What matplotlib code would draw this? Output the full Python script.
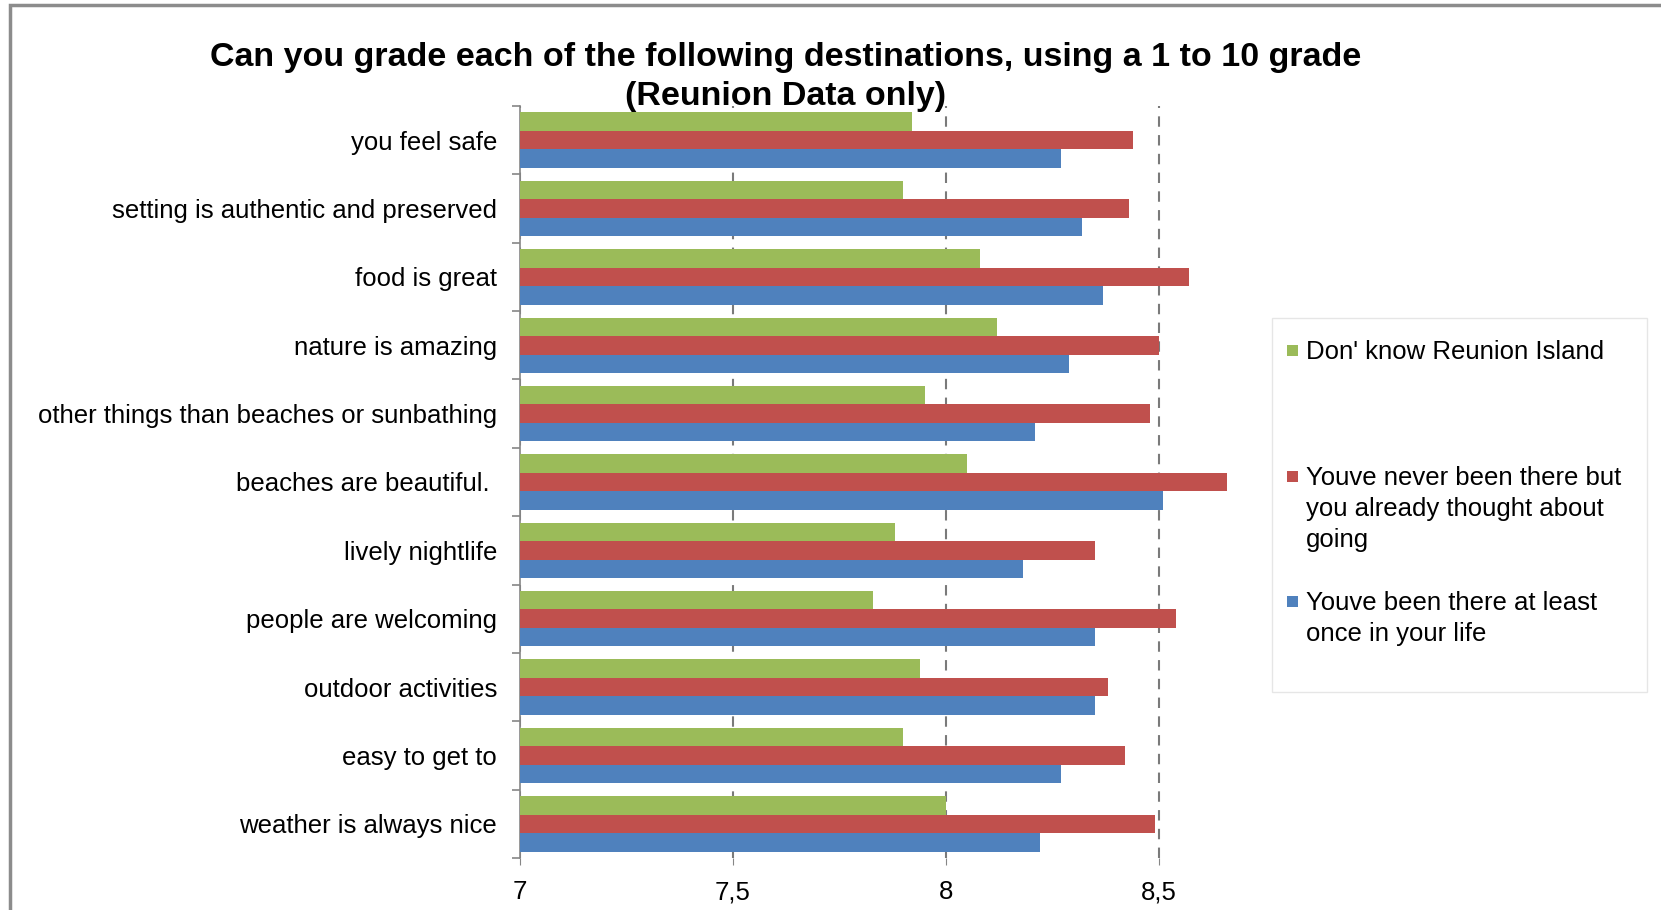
import numpy as np
import matplotlib
matplotlib.use("Agg")
import matplotlib.pyplot as plt
from matplotlib.patches import Rectangle

categories = ["you feel safe", "setting is authentic and preserved", "food is great",
              "nature is amazing", "other things than beaches or sunbathing",
              "beaches are beautiful. ", "lively nightlife", "people are welcoming",
              "outdoor activities", "easy to get to", "weather is always nice"]
dont_know = [7.92, 7.90, 8.08, 8.12, 7.95, 8.05, 7.88, 7.83, 7.94, 7.90, 8.00]
never_been = [8.44, 8.43, 8.57, 8.50, 8.48, 8.66, 8.35, 8.54, 8.38, 8.42, 8.49]
been_there = [8.27, 8.32, 8.37, 8.29, 8.21, 8.51, 8.18, 8.35, 8.35, 8.27, 8.22]
series_names = ["Don' know Reunion Island",
                "Youve never been there but\nyou already thought about\ngoing",
                "Youve been there at least\nonce in your life"]
xticks = [7, 7.5, 8, 8.5]
xtick_labels = ["7", "7,5", "8", "8,5"]
title = "Can you grade each of the following destinations, using a 1 to 10 grade\n(Reunion Data only)"

GREEN, RED, BLUE = "#9BBB59", "#C0504D", "#4F81BD"
FONT = ["Liberation Sans", "DejaVu Sans"]

W, H = 1661, 910
fig = plt.figure(figsize=(W / 100, H / 100), dpi=100)
fig.patch.set_facecolor("white")

# outer chart frame
fig.add_artist(Rectangle((10 / W, -0.2), 1.2, 1.2 - 5 / H, transform=fig.transFigure,
                         fill=False, edgecolor="#8c8c8c", linewidth=2.5, zorder=10))

ax = fig.add_axes([520 / W, 1 - 858 / H, 724 / W, 752 / H])
n = len(categories)
y = np.arange(n)
h = 0.27
ax.barh(y - h, dont_know, height=h, color=GREEN, zorder=3)
ax.barh(y, never_been, height=h, color=RED, zorder=3)
ax.barh(y + h, been_there, height=h, color=BLUE, zorder=3)

ax.set_xlim(7, 8.7)
ax.set_ylim(n - 0.5, -0.5)
ax.set_xticks(xticks)
ax.set_xticklabels(xtick_labels, fontsize=18.5, family=FONT)
ax.set_yticks(y)
ax.set_yticklabels(categories, fontsize=18.5, family=FONT)
ax.set_yticks(np.arange(-0.5, n, 1), minor=True)
ax.tick_params(axis="y", which="major", length=0, pad=16.5)
ax.tick_params(axis="y", which="minor", length=6, width=1.2, color="#868686", direction="out")
ax.tick_params(axis="x", which="major", length=5, color="#868686", pad=11)

for sp in ["top", "right", "bottom"]:
    ax.spines[sp].set_visible(False)
ax.spines["left"].set_color("#868686")
ax.spines["left"].set_linewidth(1.2)

ax.xaxis.grid(True, color="#7a7a7a", linestyle=(0, (5, 4)), linewidth=1.5, zorder=0)
ax.set_axisbelow(True)

fig.text(786 / W, 1 - 77 / H, title, ha="center", va="center", fontsize=24.5,
         fontweight="bold", family=["Liberation Sans Narrow", "Liberation Sans", "DejaVu Sans"],
         linespacing=1.32)

# legend
lx0, ly0, lx1, ly1 = 1272, 318, 1647, 692
fig.add_artist(Rectangle((lx0 / W, 1 - ly1 / H), (lx1 - lx0) / W, (ly1 - ly0) / H,
                         transform=fig.transFigure, fill=False, edgecolor="#e6e6e6", linewidth=1))
entry_tops = [340, 466, 591]
for name, col, top in zip(series_names, [GREEN, RED, BLUE], entry_tops):
    c = top + 10
    fig.add_artist(Rectangle((1287 / W, 1 - (c + 5.5) / H), 11 / W, 11 / H,
                             transform=fig.transFigure, facecolor=col, edgecolor="none"))
    fig.text(1306 / W, 1 - top / H, name, ha="left", va="top", fontsize=18.5,
             family=FONT, linespacing=1.36)

fig.savefig("out.png", dpi=100, facecolor="white")
